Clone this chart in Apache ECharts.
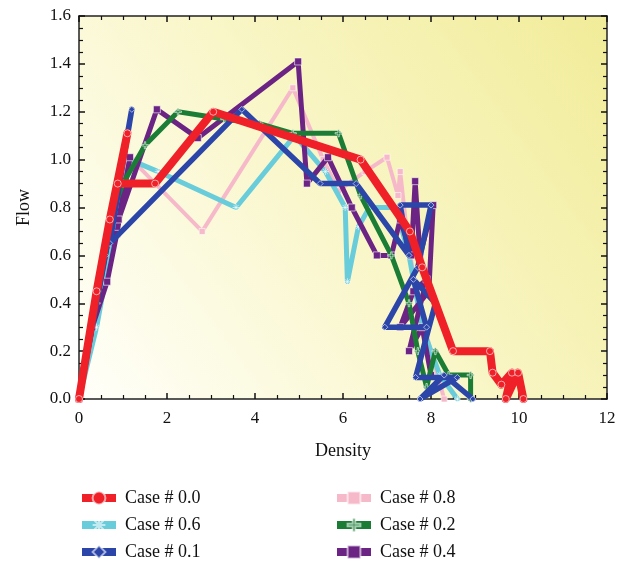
<!DOCTYPE html>
<html>
<head>
<meta charset="utf-8">
<script src="https://cdn.jsdelivr.net/npm/echarts@6/dist/echarts.min.js"></script>
<style>
  html, body { margin: 0; padding: 0; background: #ffffff; }
  #chart { width: 629px; height: 563px; }
</style>
</head>
<body>
<div id="chart"></div>
<script>
// Flow–density traces, one per case: [density, flow]
const case00 = [[0,0],[0.4,0.45],[0.7,0.75],[1.1,1.11],[0.88,0.9],[1.73,0.9],[3.05,1.2],[6.4,1.0],[7.52,0.7],[7.8,0.55],[8.5,0.2],[9.34,0.2],[9.4,0.11],[9.6,0.06],[9.84,0.11],[9.7,0],[9.98,0.11],[10.1,0]];
const case06 = [[0,0],[0.4,0.3],[0.8,0.7],[1.15,1.0],[1.8,0.95],[3.57,0.8],[4.9,1.1],[5.6,0.95],[6.05,0.8],[6.1,0.49],[6.35,0.72],[6.6,0.8],[7.2,0.8],[7.5,0.6],[7.8,0.3],[8.2,0.1],[8.6,0]];
const case01 = [[0,0],[0.3,0.3],[0.6,0.6],[0.9,0.9],[1.2,1.21],[0.7,0.65],[3.7,1.21],[5.48,0.9],[6.3,0.9],[7.5,0.6],[7.3,0.81],[8.0,0.81],[7.7,0.55],[6.95,0.3],[7.9,0.3],[7.6,0.5],[8.1,0.4],[7.65,0.09],[8.6,0.09],[7.75,0],[8.3,0.1],[8.95,0]];
const case08 = [[0,0],[0.5,0.5],[0.9,0.85],[1.2,1.0],[2.8,0.7],[4.86,1.3],[5.55,1.0],[5.9,0.87],[6.5,0.95],[7.0,1.01],[7.25,0.85],[7.3,0.95],[7.45,0.7],[7.7,0.4],[8.0,0.2],[8.3,0]];
const case02 = [[0,0],[0.4,0.4],[0.8,0.8],[1.0,0.9],[1.5,1.06],[2.25,1.2],[3.3,1.17],[4.1,1.15],[4.86,1.11],[5.9,1.11],[6.4,0.85],[7.1,0.6],[7.5,0.4],[7.7,0.2],[7.9,0.05],[8.1,0.2],[8.4,0.1],[8.9,0.1],[8.9,0]];
const case04 = [[0,0],[0.3,0.3],[0.64,0.49],[0.86,0.69],[1.16,1.01],[0.9,0.75],[1.77,1.21],[2.7,1.09],[4.98,1.41],[5.18,0.9],[5.66,1.01],[6.2,0.8],[6.77,0.6],[7.1,0.6],[7.3,0.75],[7.55,0.6],[7.64,0.91],[7.75,0.6],[8.05,0.81],[7.95,0.45],[7.3,0.3],[7.6,0.45],[7.9,0.5],[7.5,0.2],[7.8,0.3],[8.0,0.1]];

const seriesNames = ['Case # 0.0','Case # 0.6','Case # 0.1','Case # 0.8','Case # 0.2','Case # 0.4'];
const xTicks = { min: 0, max: 12, step: 2 };
const yTicks = { min: 0, max: 1.6, step: 0.2 };

const serif = '"Liberation Serif", "DejaVu Serif", serif';

function line(name, data, color, width, symbol, size, z) {
  return {
    name: name, type: 'line', data: data, z: z,
    symbol: symbol, symbolSize: size,
    lineStyle: { color: color, width: width, join: 'round', cap: 'round' },
    itemStyle: { color: color, borderColor: 'rgba(255,255,255,0.6)', borderWidth: 1 },
    emphasis: { disabled: true },
    animation: false
  };
}

const asterisk = 'path://M5 0 L5 10 M0 5 L10 5 M1.5 1.5 L8.5 8.5 M8.5 1.5 L1.5 8.5';
const plus = 'path://M4 0 L6 0 L6 4 L10 4 L10 6 L6 6 L6 10 L4 10 L4 6 L0 6 L0 4 L4 4 Z';

const axisCommon = {
  axisLine: { show: true, onZero: false, lineStyle: { color: '#222', width: 1.5 } },
  axisTick: { show: true, inside: true, length: 6, lineStyle: { color: '#111', width: 1.5 } },
  minorTick: { show: true, splitNumber: 4, length: 4, lineStyle: { color: '#111', width: 1.2 } },
  splitLine: { show: false },
  minorSplitLine: { show: false }
};

const legendCommon = {
  orient: 'vertical', top: 489, height: 74, padding: 0, itemGap: 9,
  itemWidth: 34, itemHeight: 16,
  lineStyle: { width: 8, cap: 'butt' },
  textStyle: { fontFamily: serif, fontSize: 18, color: '#111', padding: [0, 0, 0, 4] }
};

const chart = echarts.init(document.getElementById('chart'), null, { renderer: 'canvas' });
chart.setOption({
  backgroundColor: '#ffffff',
  animation: false,
  grid: {
    left: 79, right: 22, top: 16, bottom: 164,
    show: true, borderWidth: 0,
    backgroundColor: new echarts.graphic.LinearGradient(0, 1, 1, 0, [
      { offset: 0, color: '#fffffa' },
      { offset: 0.5, color: '#f9f6c8' },
      { offset: 1, color: '#f1ec98' }
    ])
  },
  xAxis: [
    Object.assign({
      type: 'value', min: xTicks.min, max: xTicks.max, interval: xTicks.step,
      name: 'Density', nameLocation: 'middle', nameGap: 43,
      nameTextStyle: { fontFamily: serif, fontSize: 18, color: '#111' },
      axisLabel: { fontFamily: serif, fontSize: 17, color: '#111', margin: 11 }
    }, axisCommon),
    Object.assign({
      type: 'value', position: 'top', min: xTicks.min, max: xTicks.max, interval: xTicks.step,
      axisLabel: { show: false }
    }, axisCommon)
  ],
  yAxis: [
    Object.assign({
      type: 'value', min: yTicks.min, max: yTicks.max, interval: yTicks.step,
      name: 'Flow', nameLocation: 'middle', nameGap: 46,
      nameTextStyle: { fontFamily: serif, fontSize: 18, color: '#111' },
      axisLabel: { fontFamily: serif, fontSize: 17, color: '#111', margin: 8,
        formatter: v => v.toFixed(1) }
    }, axisCommon),
    Object.assign({
      type: 'value', position: 'right', min: yTicks.min, max: yTicks.max, interval: yTicks.step,
      axisLabel: { show: false }
    }, axisCommon)
  ],
  legend: [
    Object.assign({ data: [seriesNames[0], seriesNames[1], seriesNames[2]], left: 78 }, legendCommon),
    Object.assign({ data: [seriesNames[3], seriesNames[4], seriesNames[5]], left: 333 }, legendCommon)
  ],
  series: [
    line(seriesNames[3], case08, '#f6b9c9', 4, 'rect', 6, 2),
    line(seriesNames[1], case06, '#68ccdb', 5, asterisk, 7, 3),
    line(seriesNames[5], case04, '#6b2483', 5, 'rect', 7, 4),
    line(seriesNames[4], case02, '#1b7d35', 5, plus, 7, 5),
    line(seriesNames[2], case01, '#2b45a8', 5.5, 'diamond', 6, 6),
    line(seriesNames[0], case00, '#ef2027', 8, 'circle', 7, 7)
  ]
});
</script>
</body>
</html>
